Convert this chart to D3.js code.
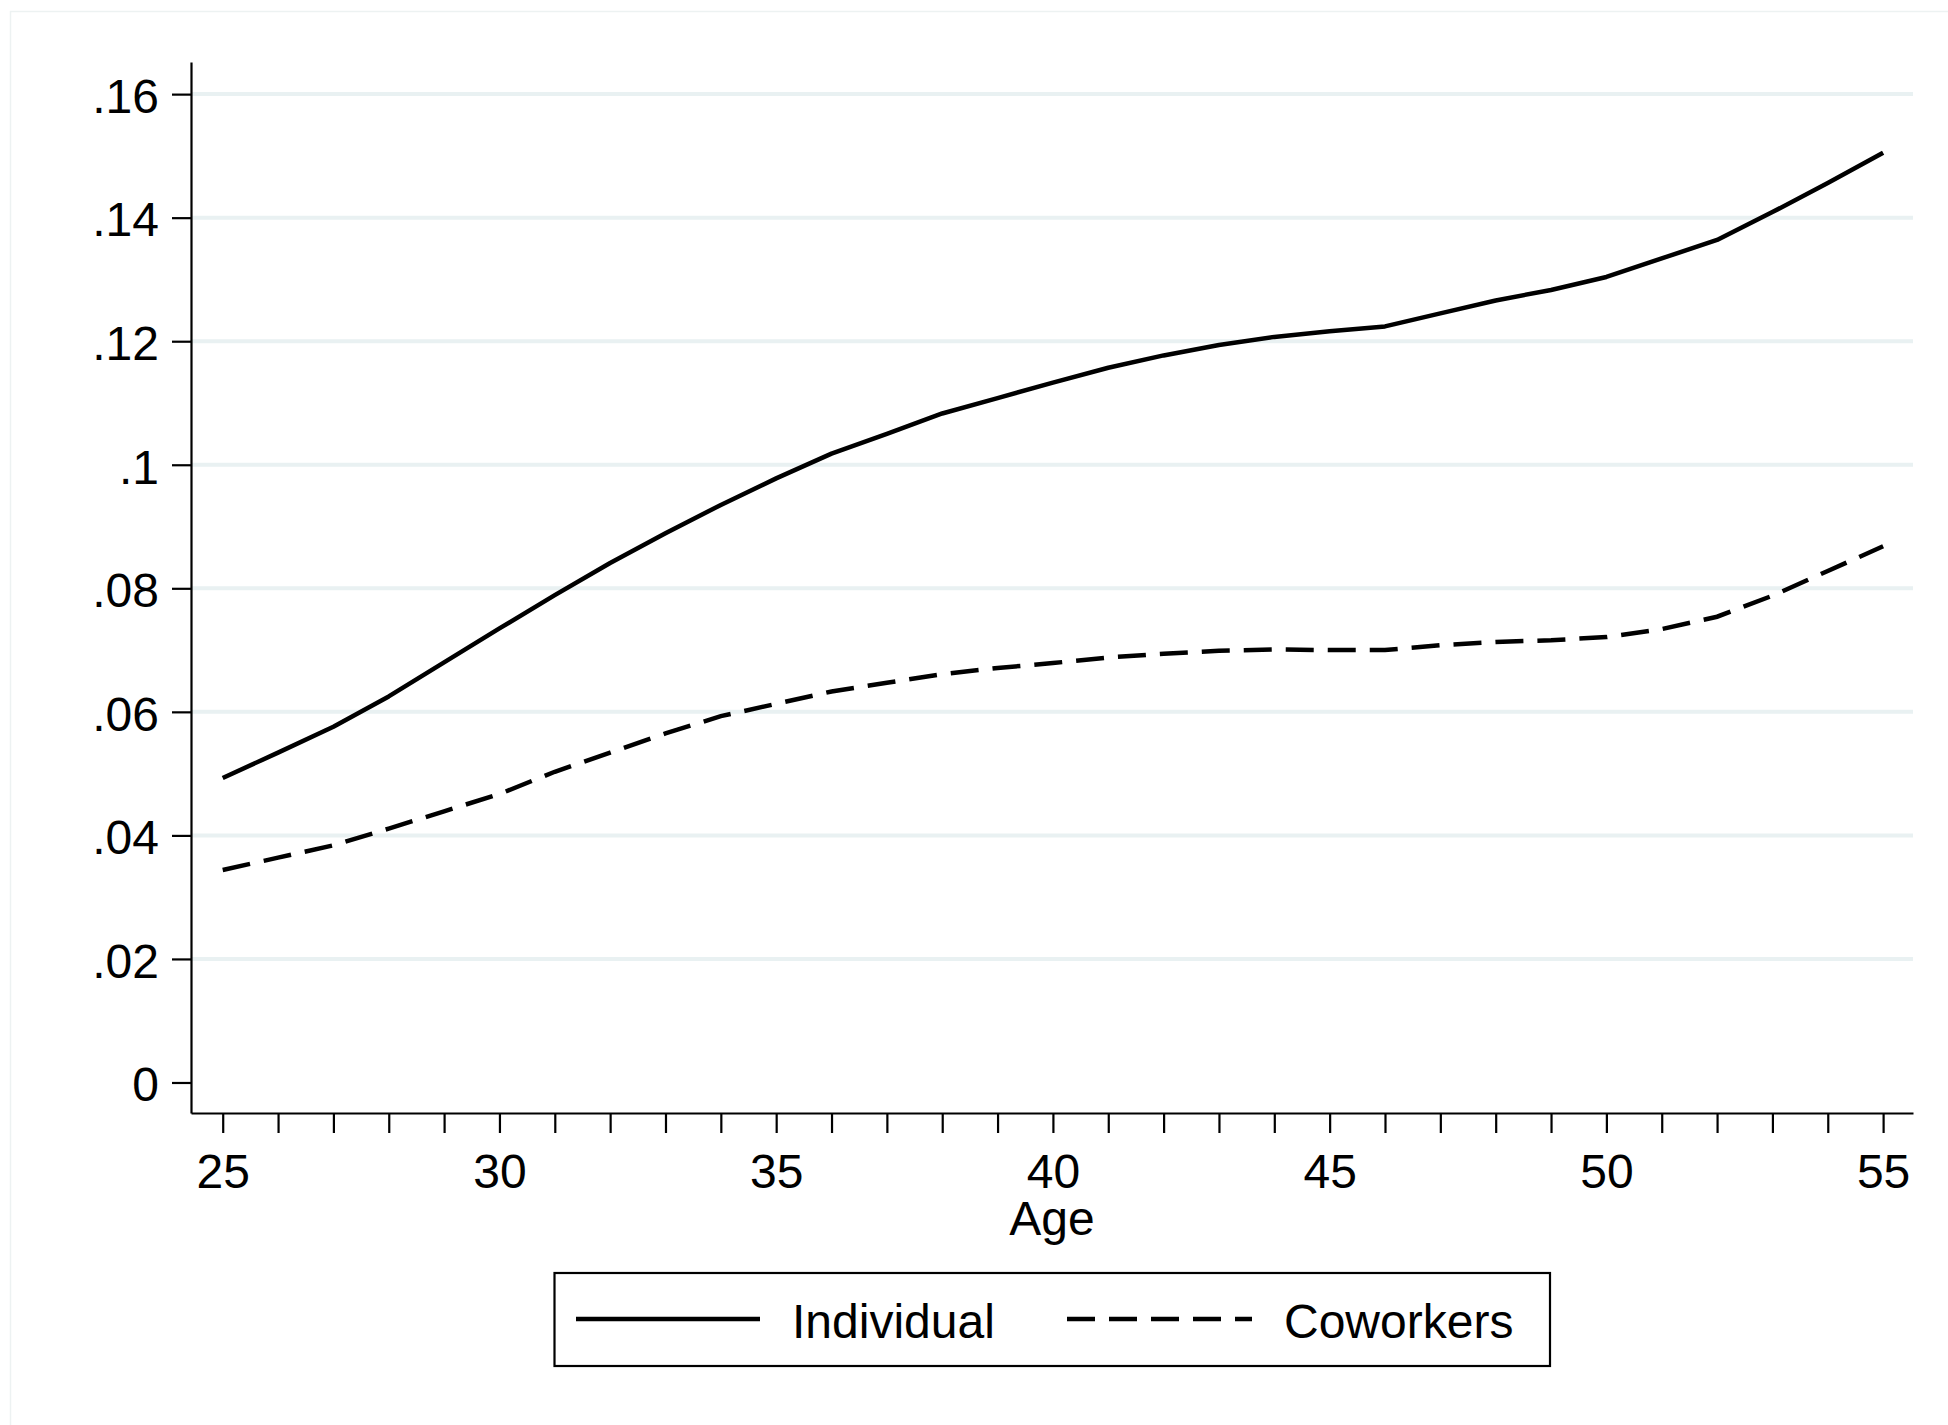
<!DOCTYPE html>
<html>
<head>
<meta charset="utf-8">
<script src="https://cdn.jsdelivr.net/npm/d3@7"></script>
<style>
  html, body { margin: 0; padding: 0; background: #fff; }
  svg { display: block; }
  text { font-family: "Liberation Sans", Arial, Helvetica, sans-serif; fill: #000; }
</style>
</head>
<body>
<svg id="chart" width="1948" height="1425"></svg>
<script>
// Age profile, 25 to 55
const ages = [25, 26, 27, 28, 29, 30, 31, 32, 33, 34, 35, 36, 37, 38, 39, 40,
              41, 42, 43, 44, 45, 46, 47, 48, 49, 50, 51, 52, 53, 54, 55];

const individual = [0.0493, 0.0534, 0.0576, 0.0625, 0.0680, 0.0735, 0.0789, 0.0841,
                    0.0889, 0.0935, 0.0978, 0.1018, 0.1050, 0.1083, 0.1108, 0.1133,
                    0.1157, 0.1177, 0.1194, 0.1207, 0.1216, 0.1224, 0.1245, 0.1266,
                    0.1283, 0.1304, 0.1334, 0.1364, 0.1409, 0.1456, 0.1505];

const coworkers = [0.0344, 0.0364, 0.0384, 0.0411, 0.0439, 0.0467, 0.0503, 0.0534,
                   0.0565, 0.0593, 0.0613, 0.0633, 0.0647, 0.0661, 0.0671, 0.0679,
                   0.0688, 0.0694, 0.0699, 0.0701, 0.0700, 0.0700, 0.0708, 0.0713,
                   0.0716, 0.0721, 0.0734, 0.0754, 0.0788, 0.0828, 0.0868];

const seriesNames = ["Individual", "Coworkers"];

const yTickValues = [0, 0.02, 0.04, 0.06, 0.08, 0.10, 0.12, 0.14, 0.16];
const yTickLabels = ["0", ".02", ".04", ".06", ".08", ".1", ".12", ".14", ".16"];
const xLabelValues = [25, 30, 35, 40, 45, 50, 55];
const xTitle = "Age";

// Layout
const W = 1948, H = 1425;
const plot = { left: 191, right: 1913, top: 62, bottom: 1113 };
const FONT = 48;
const GRID = "#e9f1f2";

const svg = d3.select("#chart");

// Outer graph region border
svg.append("rect")
  .attr("x", 10.5).attr("y", 11.5)
  .attr("width", W).attr("height", H)
  .attr("fill", "#fff")
  .attr("stroke", "#edf2f2")
  .attr("stroke-width", 1.5);

const x = d3.scaleLinear().domain([24.427, 55.54]).range([plot.left, plot.right]);
const y = d3.scaleLinear().domain([-0.00494, 0.1652]).range([plot.bottom, plot.top]);

// Horizontal gridlines
svg.append("g")
  .selectAll("line")
  .data(yTickValues.filter(v => v > 0))
  .join("line")
  .attr("x1", plot.left).attr("x2", plot.right)
  .attr("y1", d => y(d)).attr("y2", d => y(d))
  .attr("stroke", GRID)
  .attr("stroke-width", 4);

// Series lines
const line = d3.line()
  .x((d, i) => x(ages[i]))
  .y(d => y(d));

svg.append("path")
  .datum(individual)
  .attr("d", line)
  .attr("fill", "none")
  .attr("stroke", "#000")
  .attr("stroke-width", 4.5)
  .attr("stroke-linejoin", "round");

svg.append("path")
  .datum(coworkers)
  .attr("d", line)
  .attr("fill", "none")
  .attr("stroke", "#000")
  .attr("stroke-width", 4.5)
  .attr("stroke-dasharray", "28,14");

// Y axis
const yAxis = svg.append("g")
  .attr("transform", `translate(${plot.left},0)`)
  .call(d3.axisLeft(y)
    .tickValues(yTickValues)
    .tickFormat((d, i) => yTickLabels[i])
    .tickSize(19)
    .tickSizeOuter(0)
    .tickPadding(13));

// X axis
const xAxis = svg.append("g")
  .attr("transform", `translate(0,${plot.bottom})`)
  .call(d3.axisBottom(x)
    .tickValues(ages)
    .tickFormat(d => xLabelValues.includes(d) ? String(d) : "")
    .tickSize(20)
    .tickSizeOuter(0)
    .tickPadding(21));

[yAxis, xAxis].forEach(g => {
  g.select(".domain").attr("stroke", "#000").attr("stroke-width", 2.2);
  g.selectAll(".tick line").attr("stroke", "#000").attr("stroke-width", 2.2);
  g.selectAll(".tick text")
    .attr("font-size", FONT)
    .attr("font-family", "'Liberation Sans', Arial, Helvetica, sans-serif")
    .attr("fill", "#000");
});
yAxis.selectAll(".tick text").attr("dy", "0.38em");

// X axis title
svg.append("text")
  .attr("x", (plot.left + plot.right) / 2)
  .attr("y", 1235)
  .attr("text-anchor", "middle")
  .attr("font-size", FONT)
  .text(xTitle);

// Legend
const legend = { left: 554.5, top: 1273, right: 1550, bottom: 1366 };
const lg = svg.append("g");
lg.append("rect")
  .attr("x", legend.left).attr("y", legend.top)
  .attr("width", legend.right - legend.left)
  .attr("height", legend.bottom - legend.top)
  .attr("fill", "#fff")
  .attr("stroke", "#000")
  .attr("stroke-width", 2.2);

const legendItems = [
  { name: seriesNames[0], x0: 576, x1: 760, tx: 792, dash: null },
  { name: seriesNames[1], x0: 1067, x1: 1252, tx: 1284, dash: "28,14" }
];
const legendLineY = 1319;
legendItems.forEach(it => {
  const l = lg.append("line")
    .attr("x1", it.x0).attr("x2", it.x1)
    .attr("y1", legendLineY).attr("y2", legendLineY)
    .attr("stroke", "#000")
    .attr("stroke-width", 4.5);
  if (it.dash) l.attr("stroke-dasharray", it.dash);
  lg.append("text")
    .attr("x", it.tx)
    .attr("y", 1338)
    .attr("font-size", FONT)
    .text(it.name);
});
</script>
</body>
</html>
